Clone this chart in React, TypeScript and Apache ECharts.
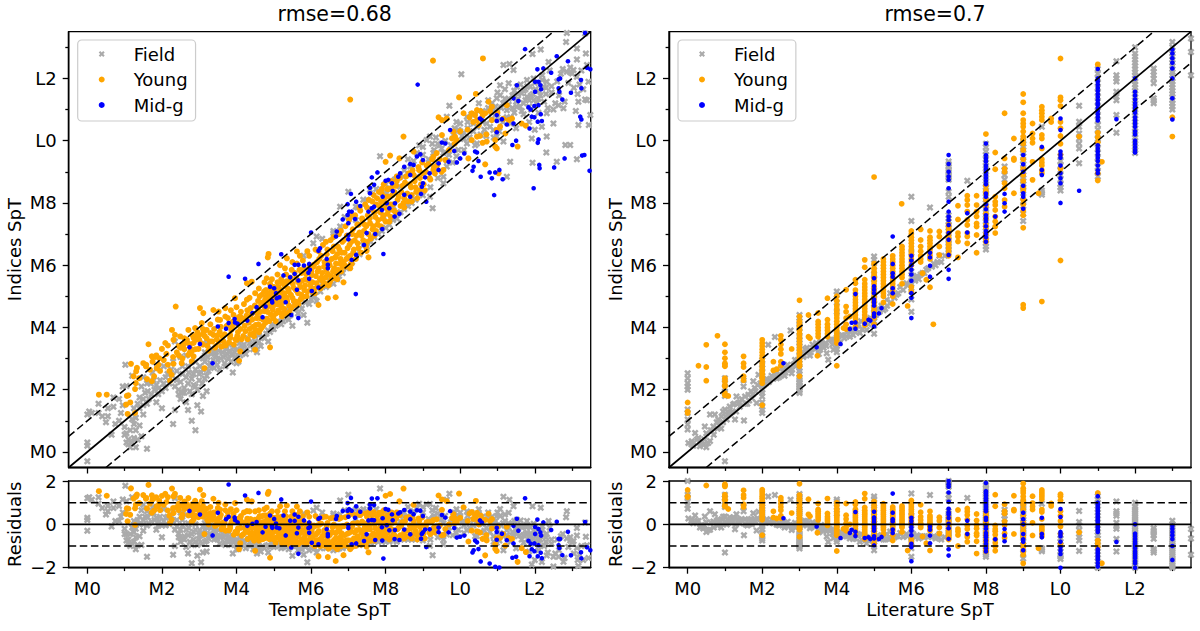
import React, { useEffect, useRef } from "react";
import * as echarts from "echarts";

const spectralLabels: Record<number, string> = { 0: "M0", 2: "M2", 4: "M4", 6: "M6", 8: "M8", 10: "L0", 12: "L2" };
const majorTicks = [0, 2, 4, 6, 8, 10, 12];
const minorTicks = [1, 3, 5, 7, 9, 11, 13];
const residualTicks = [-2, 0, 2];
const titles = ["rmse=0.68", "rmse=0.7"];
const xNames = ["Template SpT", "Literature SpT"];
const legendNames = ["Field", "Young", "Mid-g"];

type P = number[];
const fieldLeft: P = [0,-.3,0,.2,0,.3,0,1.2,.05,1.3,.12,1.25,.3,1.55,.3,1.25,.4,1.15,.7,1.75,.7,1.45,.55,1.4,.55,1.15,.5,.95,.65,.55,.75,.9,.85,1,.9,1.25,.95,1.5,.85,1.7,.95,2.1,1.05,2.12,1.02,2.8,1.2,2.45,
1,.8,1.05,.6,1.1,.4,1.1,.25,1.05,.3,1.15,.15,1.2,.3,1.3,.15,1.25,.45,1.3,.7,1.25,.9,1.2,1.05,1.3,1.1,1.15,.7,1,.55,1.35,.4,1.6,.1,1.4,.85,1.5,1.2,1.45,.5,
1.25,1.4,1.4,1.75,1.35,1.55,1.5,1.5,1.55,1.9,1.65,1.7,1.7,2.2,1.8,2,1.9,1.85,1.95,2.3,1.6,2.2,1.45,2.1,1.5,2.4,2,1.4,1.85,1.6,2.1,2.05,2.15,2.5,2.25,2.65,2.05,2.75,1.75,2.55,1.9,2.7,2.3,.9,2.35,1.35,2.5,1.7,2.55,1.9,2.65,1.6,2.7,1.35,2.8,1,2.9,.7,2.95,1.5,3.05,1.3,3.1,1.8,3.2,1.95,2.45,2,2.6,2.05,2.7,2.2,2.8,1.85,2.9,2.1,3,2.3,2.85,2.5,3.05,2.55,2.4,2.3,2.55,2.5,2.7,2.75,2.3,2.9,2.5,3.05,2.65,3.1,2.35,3.55,2.9,2.9,3.1,3,3.15,2.35,3.25,2.6,3.3,2.85,3.4,2.7,3.45,3.1,3.5,2.95,3.55,2.65,3.65,3.05,3.7,2.75,3.75,3.15,3.85,2.9,3.9,2.55,3.95,3.2,4,2.85,4.05,2.9,3.35,3.3,3.6,3.4,3.8,3.45,3.2,3.5,3.15,3.2,4.1,3.1,4.15,3.35,4.25,3.15,4.35,3.5,4.45,3.3,4.55,3.2,4.5,3.55,4.65,3.4,4.75,3.65,4.8,3.8,4.85,3.55,5,3.95,5.1,4.2,4.95,4.1,5.2,4.1,5.3,4.3,5.4,4.25,5.5,4.05,5.6,4.6,5.65,4.45,5.7,4.7,5.8,4.4,5.9,4.15,5.85,4.8,6,4.9,6.05,5,
4.6,3.75,4.9,3.85,5.35,4.55,5.55,4.75,6.1,5,6.3,5.4,6.5,5.5,6.7,5.55,6.85,5.75,6.95,5.9,7.1,6.1,7.3,6.35,7.5,6.6,7.7,6.9,7.9,7.1,8.1,7.3,8.3,7.5,8.5,7.8,8.7,8,8.9,8.3,5.8,6.3,6.3,6.85,6.6,7.1,6.9,7.55,6.06,6.7,6.15,6.92,6.6,7.03,6.78,7.24,7.05,7.56,7.2,7.45,7.2,7.88,6.78,7.88,7.4,8.1,7.58,8.42,8.03,8.31,8.21,7.88,7.94,7.56,8.34,7.67,8.39,8.52,8.48,8.84,8.84,8.84,8.66,9.17,8.84,9.6,9,9.8,9.19,10.13,9.28,9.6,9.1,10.02,9.55,8.63,9.55,8.84,9.64,9.17,9.55,9.6,9.82,10.18,9.64,10.77,10.18,9.91,9.26,7.83,9.19,8.2,7.85,9.5,7,8.36,9.71,11.12,10.03,12.13,
12.86,13.46,13.35,13.44,12.84,13.17,13.13,12.96,12.16,12.93,11.94,12.78,11.16,12.43,11.32,12.46,11.43,12.27,12.37,12.53,13.13,12.61,13.37,12.8,13.4,12.43,13.04,12.27,13,12.16,12.86,12.21,13.13,12.05,13.44,11.89,12.32,11.89,11.97,12,11.79,11.95,11.3,11.84,11.07,11.78,11.07,11.46,10.98,11.36,10.85,11.2,10.5,11.2,11.52,11.73,11.65,11.52,11.88,11.73,10.18,10.77,10.36,10.55,10.71,10.55,10.89,10.34,11.07,10.66,11.25,10.98,11.52,11.09,11.79,11.41,11.97,11.3,12.24,11.73,12.32,10.88,12.5,10.55,12.19,10.45,11.92,10.07,12.32,10.13,11.16,9.97,10.98,10.13,10.45,9.91,11.34,9.32,11.94,9.29,12.31,9.62,12.59,9.32,12.82,9.86,12.95,9.86,13.13,9.4,13.17,10.5,12.77,11.04,12.64,11.14,13.49,10.82,13.17,11.25,13.35,11.32,11.25,8.84,
10.6,10.95,10.75,11.3,10.9,11,11,11.55,11.15,11.2,11.2,11.65,11.3,11.35,11.4,11.05,11.45,11.6,11.55,11.35,11.62,11.8,11.7,11.2,11.75,11.65,11.85,11.1,11.9,11.45,12.02,11.65,12.1,11.35,12.2,11.95,12.3,11.5,12.45,11.75,12.55,11.2,12.7,12.15,12.95,12.35,13.2,11.8,10.65,10.35,10.2,10.4,10.85,10.7,11.35,10.75,11.5,10.4,11.7,10.85,11.85,10.6,12,10.35,12.1,10.9,9.9,10.6,9.95,10.35,10.05,10.15,9.3,9.1,9.45,9.85,9.7,9.55,9.8,9.3,9.95,9.7,10.1,10.05];
const fieldLeftDense: P = [1.4,1.4,1.5,1.7,1.6,1.55,1.62,1.95,1.72,1.85,1.78,2.3,1.85,2.15,1.92,2.05,2,1.95,2.05,2.2,2.1,2.4,2.2,2.2,2.28,2.45,2.35,2.1,2.4,2.6,2.45,1.85,2.5,2.25,2.55,2.75,2.6,1.9,2.65,2.4,2.72,2.55,2.75,1.95,2.8,2.35,2.85,2.15,2.9,2.65,2.95,2,3,2.5,3.02,2.75,3.08,2.2,3.1,2.65,3.15,2.9,3.2,2.45,3.22,3.05,3.28,2.75,3.32,3.15,3.38,2.95,3.42,3.2,3.48,2.8,3.52,3.25,3.58,3,3.62,3.2,3.68,2.85,3.72,3.3,3.78,3,3.82,3.25,3.88,3.1,3.92,3.35,3.98,3.05,4.02,3.3,4.08,3.5,4.12,3.2,4.2,3.45,4.28,3.3,4.32,3.65,4.4,3.45,4.48,3.75,4.52,3.4,4.6,3.55,4.7,3.7,4.85,3.9,4.95,3.95,5.05,4.05,5.15,4.15,5.25,4.2,5.45,4.4,5.75,4.6,5.95,4.75,6.15,4.85,6.25,5.15,6.4,5.3,6.6,5.4,6.75,5.65,
9.15,9.4,9.3,9.7,9.4,9.9,9.4,9.3,9.5,9.75,9.6,10,9.65,9.35,9.75,9.85,9.85,10.4,9.9,9.5,10,10.3,10,10.55,10.1,10.25,10.1,9.7,10.2,10.6,10.25,10.1,10.3,10.85,10.35,10.3,10.4,9.85,10.45,10.45,10.5,10.95,10.55,10.2,10.6,10.6,10.7,10.15,10.75,11.05,10.8,10.45,10.85,10.9,10.9,10.1,10.95,11.1,11,10.75,11.05,10.3,11.1,11.05,11.15,10.6,11.2,11.35,11.25,10.75,11.3,11.15,11.35,10.55,11.4,11.45,11.45,10.9,11.5,11.25,11.55,11.5,11.6,11.1,11.65,10.95,11.7,11.6,11.75,11.3,11.8,11.75,11.85,11.3,11.9,11,11.95,11.5,12,11.85,12.05,11.2,12.1,11.6,12.15,11.45,12.2,12.1,12.25,11.25,12.3,11.7,12.35,11.05,12.4,12.25,12.45,11.55,12.5,11,12.6,11.9,12.65,11.45,12.75,12.3,12.8,11.25,12.9,11.85,12.95,12.2,13.05,11.7,13.1,10.95,13.15,11.5,13.25,12.25,13.3,11.65,13.4,11.3,13.45,10.5,
7.4,6.65,7.6,6.75,7.8,7,8,7.2,8.2,7.45,8.4,7.7,8.6,7.9,8.8,8.1,9,8.25,9.2,8.5,9.4,8.8,7.25,7.85,7.5,8.1,7.75,8.45,8,8.6,8.25,8.75,8.5,9.05,8.75,9.35,9,9.55,9.25,9.9,9.35,10.1,8.6,9.4,8.9,9.85];
const youngLeft: P = [.31,1.84,.52,1.84,1.06,1.8,1.1,1.82,1.04,1.52,1.15,1.59,1.08,1.22,1.28,1.25,1.17,2.83,1.33,2.7,1.31,2.59,1.24,2.43,1.39,2.37,1.3,2.21,1.28,2.02,1.64,3.46,1.5,2.85,1.58,2.8,1.57,2.75,1.68,2.64,1.91,2.8,1.86,2.69,1.79,2.43,1.6,2.34,1.73,2.27,1.73,3.07,1.82,3.05,1.93,3.01,2,3.31,2.09,3.5,2.16,3.42,2.16,2.8,2.31,2.83,2.26,2.48,2.22,2.29,2.53,2.85,2.37,4.67,2.27,3.92,2.35,3.76,2.31,3.6,2.49,3.71,2.71,3.92,2.89,3.98,3.02,4.62,3.11,4.46,3.07,4.14,3.38,4.56,3.52,4.51,3.7,4.62,3.56,4.24,3.2,3.92,3.11,3.82,2.94,3.71,2.85,3.66,2.67,3.6,2.58,3.44,2.8,3.23,2.71,3.12,2.85,3.07,2.98,3.31,3.14,2.69,2.8,2.91,3.38,3.76,3.29,3.55,3.65,3.55,3.83,3.66,4.01,3.6,4.1,3.23,4.07,2.93,3.92,4.4,4.1,4.35,4.28,4.89,4.41,5.47,4.28,5.42,3.96,4.94,4.5,3.28,4.9,3.36,4.46,3.82,4.63,3.92,4.99,4.35,5.26,4.46,4.81,5.58,4.86,6.36,4.84,6.25,5.17,6,5.35,6.22,5.62,6.44,
2.4,3.2,2.6,3.3,2.75,3.45,2.9,3.6,2.55,3,2.95,3.85,2.65,3.55,2.82,3.75,
3.05,3.5,3.15,3.72,3.22,3.41,3.3,3.82,3.42,3.35,3.47,3.62,3.55,3.86,3.6,3.38,3.68,3.78,3.74,4.05,3.8,3.52,3.86,3.92,3.9,4.18,3.97,3.62,4.04,3.85,4.08,4.22,4.12,4.5,4.18,3.72,4.22,4.05,4.27,4.38,4.3,3.62,4.35,3.95,4.38,4.62,4.42,4.25,4.47,3.72,4.52,4.08,4.55,4.45,4.58,4.85,4.6,3.85,4.63,4.3,4.66,4.72,4.68,5.05,4.72,4.05,4.75,4.52,4.77,4.9,4.79,5.2,4.82,4.28,4.85,4.68,4.87,5.08,4.9,5.4,4.92,4.42,4.95,4.98,4.97,4.58,5,5.3,5.02,4.72,5.05,4.2,5.08,4.9,5.1,5.45,5.12,4.55,5.15,5.12,5.18,4.78,5.2,5.55,5.22,4.35,5.25,5,5.28,4.6,5.3,5.32,5.33,5.7,5.36,4.85,5.4,5.15,5.42,4.5,5.45,5.5,5.48,5.85,5.5,4.95,5.53,5.28,5.57,4.72,5.6,5.6,5.62,6.05,5.65,5.1,5.68,5.42,5.72,4.9,5.75,5.75,5.78,6.15,5.82,5.2,5.85,5.55,5.88,5,5.92,5.85,5.95,6.3,5.98,5.35,6.02,5.68,6.05,5.12,6.08,6.02,6.12,6.5,6.15,5.42,6.18,5.8,6.22,6.2,6.25,5.25,6.28,5.6,6.32,6.65,6.35,5.95,6.38,5.4,6.42,6.35,6.45,5.72,6.48,6.1,6.52,6.8,6.55,5.55,6.58,6.45,6.62,5.9,6.65,6.25,6.68,5.7,6.72,6.6,6.75,7,6.78,6.05,6.82,6.4,6.85,5.95,6.88,6.8,6.92,7.25,6.95,6.2,6.98,6.55,7.02,7.45,7.05,6.3,7.08,6.75,7.12,7.15,7.15,6.5,7.18,7.6,7.22,6.95,7.25,6.7,7.28,7.3,7.32,7.75,7.35,6.95,7.38,7.45,7.42,7.1,7.45,7.95,7.48,7.25,7.52,7.6,7.55,8.1,7.58,7.35,7.62,7.8,7.65,7.15,7.68,8.25,7.72,7.55,7.75,7.95,7.78,7.3,7.82,8.35,7.85,7.7,7.88,8.05,7.92,7.5,7.95,8.6,7.98,7.85,8.02,8.2,8.05,7.65,8.08,8.45,8.12,7.95,8.15,8.7,8.18,8.25,8.22,7.75,8.28,8.55,8.32,8.1,8.38,8.8,8.42,8.35,8.48,8,8.52,8.65,8.58,8.3,8.62,8.95,8.68,8.5,8.72,9.05,8.78,8.7,8.82,8.35,8.88,9.15,8.92,8.8,8.98,9.3,9.02,8.6,9.08,9,9.15,9.25,9.2,8.75,9.25,9.4,9.32,8.95,
6.2,4.72,6.45,4.94,6.66,4.97,6.87,5.45,7.54,6.25,7.49,6.46,7.09,6.04,7.05,11.32,9.27,12.57,10.61,12.64,8.48,10.13,9.97,11.39,10.42,11.5,9.42,10.75,9.51,10.66,9.64,10.71,9.51,10.18,9.82,10.29,9.86,10.13,9.91,10.02,9.78,10.07,8.75,9.65,8.12,9.52,8.37,9.43,8,9.32,9.28,9.48,9.37,9.6,9.55,9.06,9.28,9.06,9.6,9.38,10.09,10.88,10.31,10.88,10.45,10.98,10.4,10.82,10.76,11.25,10.85,11.09,10.67,10.88,10.45,10.66,10.85,10.66,11.07,10.45,10.98,10.34,10.45,10.13,10.53,10.15,10.31,10.02,10.6,9.93,10.71,9.97,10.94,10.02,10.94,9.81,10.98,9.75,11.21,10.23,11.3,10.66,11.39,10.71,11.65,10.55,11.76,10.48,11.25,11.14,11.54,9.81,10.67,9.24,10.22,9.43,11.03,8.95];
const youngLeftDense: P = [3.52,3.55,3.58,4.02,3.63,3.7,3.71,3.42,3.77,4.3,3.83,3.75,3.88,4.02,3.93,3.45,3.99,4.12,4.02,3.72,4.06,4.33,4.11,3.95,4.14,3.62,4.2,4.28,4.24,3.88,4.29,4.55,4.33,4.15,4.37,3.78,4.4,4.42,4.44,4.02,4.49,4.7,4.51,3.92,4.54,4.3,4.57,4.62,4.59,4.1,4.62,5,4.64,4.5,4.67,3.98,4.7,4.8,4.71,4.25,4.74,5.15,4.76,4.65,4.78,4.15,4.81,5,4.83,4.5,4.86,4.85,4.88,4.2,4.91,5.25,4.93,4.7,4.96,5.12,4.98,4.3,5.01,4.85,5.03,5.2,5.06,4.45,5.07,5.05,5.11,4.75,5.13,5.3,5.16,4.48,5.17,4.95,5.19,5.2,5.21,4.65,5.24,5.42,5.26,4.82,5.29,5.1,5.31,4.45,5.34,5.48,5.35,4.95,5.38,5.25,5.41,4.7,5.44,5.6,5.46,5.05,5.47,4.62,5.51,5.4,5.54,4.85,5.56,5.75,5.59,5.2,5.61,4.82,5.64,5.5,5.66,4.75,5.69,5.85,5.71,5.3,5.74,5.05,5.76,5.5,5.79,4.98,5.81,5.9,5.84,5.35,5.87,5.72,5.9,5.15,5.93,5.5,5.96,6,5.99,5.2,6.01,5.8,6.04,5.45,6.07,5.95,6.1,5.25,6.13,5.65,6.16,6.1,6.19,5.3,6.21,5.9,6.24,5.55,6.27,6.3,6.3,5.75,6.33,5.35,6.36,6.1,6.39,5.6,6.41,5.85,6.44,6.5,6.47,5.35,6.5,6,6.53,5.65,6.56,6.2,6.59,5.8,6.61,6.6,6.64,5.6,6.67,6.05,6.7,6.35,6.73,5.85,6.76,6.5,6.79,6.2,6.81,5.8,6.84,6.75,6.87,6.1,6.9,6.4,6.93,5.95,6.96,6.95,6.99,6.25,7.03,6.65,7.07,6.05,7.1,7,7.13,6.4,7.17,6.8,7.2,6.2,7.24,7.3,7.27,6.55,7.3,7.05,7.34,6.4,7.37,7.5,7.4,6.8,7.44,7.3,7.47,6.6,7.5,7.85,7.54,7,7.57,7.5,7.6,6.85,7.64,8.05,7.67,7.25,7.7,7.7,7.74,7.1,7.77,8.15,7.8,7.45,7.84,7.9,7.87,7.25,7.9,8.3,7.94,7.6,7.97,8.05,8,7.4,8.04,8.45,8.07,7.75,8.1,8.2,8.14,7.55,8.17,8.5,8.2,7.95,8.24,8.35,8.27,7.7,8.3,8.7,8.35,8.2,8.4,7.9,8.45,8.55,8.5,8.15,8.55,8.85,8.6,8.05,8.65,8.6,8.7,8.25,8.75,8.9,8.8,8.5,8.85,8.15,8.9,9.05,8.95,8.6,9,8.95,9.05,8.4,9.1,9.2,9.18,8.8,9.3,9.15,9.38,9.2,9.45,9.4,9.5,9,
1.75,2.9,1.85,3.1,1.95,2.6,2.05,2.95,2.12,3.15,2.2,2.6,2.45,3.4,2.5,3.35,3,3.75,3.1,3.45,3.2,3.65,3.25,3.25,3.35,3.55,3.4,3.95,3.45,3.4,3.5,3.75,2.78,3.3,2.85,3.5,2.9,3.3,
7.1,7.6,7.3,7.85,7.5,6.75,7.7,6.95,7.9,8.45,8.1,7.4,8.3,8.85,8.5,7.85,8.7,8.05,8.9,8.4,7.05,5.9,6.9,6,6.7,5.55,6.5,5.45,6.3,5.5,6.1,5.1,6.4,6.75,6.2,6.45,6.6,6.9,6.8,7.1,3,3.6,3.1,3.95,3.3,4.1,3.5,4.25,3.7,4.35,3.85,4.55,4,4.65,4.2,4.75,4.35,4.95,4.5,5.1,4.6,5.25,4.75,5.45,4.95,5.55,5.1,5.7,5.3,5.9,5.5,6.1,5.7,6.3,5.9,6.45,2.3,3.05,2.45,3.1,2.6,3.65,2.7,3.5,2.75,3.2,9.7,9.7,9.85,9.9,10,10.3,10.2,10.35,10.35,10.6,10.5,10.5,10.6,10.8,10.7,10.2,10.8,10.95,11,10.9,11.15,10.7,10.55,10.95,10.25,10.75];
const midLeft: P = [8.86,11.8,11.74,12.94,13.35,13.46,12.59,12.71,12.07,12.29,12.23,12.32,12.44,12.18,12.89,12.55,11.52,11.78,11.43,11.36,11.56,11.27,12.01,11.89,12.1,11.89,12.15,11.78,12.01,11.57,12.17,11.65,12.64,11.97,12.68,12,12.64,11.68,12.66,11.57,12.74,11.32,12.97,11.54,13.24,11.95,13.25,11.68,13.4,12.34,13.49,12.29,13.22,10.77,13.25,10.68,12.1,11.14,11.99,11.11,11.83,11.07,11.89,11,11.92,10.77,11.99,10.75,12.08,10.61,12.19,10.63,12.16,10.85,10.98,10.82,11.12,10.69,10.98,10.63,11.25,10.52,11.43,10.55,11.86,10.39,10.98,10.27,12.1,10.04,12.08,9.93,11.5,10,11.4,9.86,10.53,10.71,10.58,10.66,9.73,10.34,9.51,9.94,9.6,9.91,10.11,9.59,9.84,9.67,10.4,9.65,10.45,9.62,10,9.43,9.91,9.3,9.69,9.32,10.49,9.35,10.36,9.16,10.33,9.03,10.55,8.84,10.79,8.98,10.94,8.98,11.05,9.06,10.85,8.79,11.14,8.76,10.91,8.25,11.97,8.47,12.12,9.22,12.13,9.11,12.8,9.43,12.52,9.14,13.27,9.52,13.33,9.54,13.47,9.03,
8.84,9.49,8.93,9.56,8.75,9.22,8.66,9.25,8.5,9.16,8.39,8.95,8.34,8.84,8.07,8.74,8,8.71,8.17,8.63,8.66,8.9,9.06,8.82,9,8.63,8.97,8.52,9.18,8.95,9.42,9.27,9.42,9.06,9,9.38,8.95,8.29,9.09,8.04,8.66,8.2,8.5,8.26,8.19,8.38,7.92,8.2,7.78,8.98,7.63,8.82,7.69,8.58,7.58,8.49,7.58,8.31,7.07,8.29,6.98,7.96,7.21,8.04,7.32,7.9,7.02,7.72,7.09,7.72,6.98,7.61,6.85,7.47,7,7.35,7.18,7.48,7.54,7.72,7.63,7.83,7.69,7.88,7.9,7.77,8.03,7.99,8.25,7.99,8.1,7.83,8.24,7.56,8.37,7.65,7.91,7.16,7.49,7.03,7.72,7,6.69,7.08,6.67,6.92,6,7.05,7,6.97,7,6.83,7.42,6.65,6.24,6.54,
5.2,6.35,4.59,6.04,3.79,5.63,4.23,5.56,2.74,3.36,3.02,3.47,3.36,2.85,3.5,4.03,3.72,3.96,3.79,4.14,3.95,4.27,3.96,4.16,4.03,4.12,4.29,4.22,4.43,4.46,4.54,4.65,4.7,4.33,4.78,4.67,4.95,4.86,4.96,4.8,5.08,4.94,5.15,4.97,5.06,5.1,5.01,5.26,4.9,5.31,5.26,5.67,5.44,5.61,5.56,6.01,5.66,6.01,5.56,5.72,5.62,5.21,5.32,4.81,5.66,5.51,5.47,4.4,5.66,4.3,7.94,6.36,7.2,5.07,7.21,6.33,7.09,6.17,6.2,5.28,6.02,5.17,5.95,5.56,6.42,6.2,6.45,6.01,6.45,5.9,5.97,5.85,5.93,5.76,5.95,6.04,5.81,5.99,6.2,6.46];

// Right panel: [spectral type, [indices values...]] columns, then loose points
const fieldColumns: [number, number[]][] = [
[0,[2.53,2.37,2.21,2.1,2,1.36,1.25,1.04,.88,.72]],[1,[2.37,2.2,2.05,1.9,1.8,-.3]],[1.5,[2.3,2.1]],[2,[1.25,1.46,1.78,2,2.2,2.45,2.7,2.95,1.35,1.6,1.9,2.1,2.3,2.55,2.8]],[3,[1.89,2,2.1,2.21,2.32,2.6,2.85,3.1,3.4,3.7,4,4.2,4.4,1.95,2.05,2.15,2.25,2.4,2.5,2.7,2.95,3.2,3.5,3.6,3.85,4.1,4.3]],[4,[5.15,5.05,4.8,4.5,3.6,3.4,3.2,3.8,3.55,3.3]],[5,[6.28,6.17,5.7,4.9,4.3,4.05,3.8,5.95,5.55,5.2,5.05,4.75,4.6,4.45,4.2]],[6,[6.4,4.5,5.15,4.9,8.2,7.42,5.8,5.6,5.4]],[6.5,[7.85]],[7,[9.33,9.16,9,8.85,8.74,8.36,8.2,7.6,7.4,7.2,6.8,6.6,6.4,9.25,9.08,8.92,8.8,7.5,7.3,7.1,6.9,6.7,6.5]],[7.5,[8.71]],
[8,[9.8,9.65,9.4,9.1,8.9,8.5,8.1,7.7,7.3,7,6.6,6.5,9.9,9.55,9.3,9.2,9,8.8,8.7,8.6,8.4,8.3,8.2,8,7.9,7.8,7.6,7.5,7.4,7.2,7.1,6.9,6.8,6.7]],[8.5,[9.17,9.05,8.9,8.75]],[9,[10,9.8,9.6,9.35,9.1,8.8,8.5,8.05,7.42,7.65,9.9,9.7,9.5,9.25,9,8.9,8.7,8.6,8.4,8.2,7.9]],[9.5,[10.45,8.4,8.26,8.33]],[10,[9.5,9.2,8.9,8.6,8.5,8.4,9.35,9.05,8.75]],[10.5,[11.12,10.61,10.45,10.23,10.07,9.91,9.75,9.27]],
[11,[12,11.7,11.4,11.1,10.8,10.5,10.2,9.9,9.6,9.3,9,8.85,12.3,12.15,11.85,11.55,11.25,10.95,10.65,10.35,10.05,9.75,9.45,9.15]],[11.5,[12.55,12.1,12,11.9,11.57,11.41,11.3,10.82,10.25]],[12,[13,12.4,12.3,12.2,12.1,11.9,11.7,11.4,11.1,10.9,10.6,10.4,10.1,9.8,9.6,12.5,12.6,12.7,12.8,12,11.8,11.6,11.5,11.3,11.2,11,10.8,10.7,10.5,10.3,10.2,10,9.9,9.7]],[12.5,[12.32,12.21,12,11.84,11.36,11.2,12.1,11.28]],[13,[13.17,13,12.7,12.1,11.9,11.7,11.5,11.3,11.1,11,12.9,12.8,12.6,12.5,12.4,12.3,12.2,12,11.8,11.6,11.4,11.2]],[13.5,[13.28,12.85,12.1]]];
const fieldRightLoose: P = [.02,.29,.11,.34,.2,.61,.29,.45,.33,.18,.42,.23,.55,.29,.46,.82,.6,1.2,.73,1.2,.69,.82,.82,1.04,.91,1.14,1,1.36,1.05,1.04,1.13,1.46,1.22,1.52,1.31,1.78,1.36,1.57,1.27,1.04,1.51,1.01,1.54,1.78,1.63,1.84,1.72,1.73,1.76,2.27,1.85,1.57,1.9,2.48,.15,.2,.38,.35,.5,.6,.62,.7,.78,.95,.9,.75,.95,1.3,1.1,1.2,1.2,1.3,1.4,1.45,1.6,1.55,1.8,2.05,
2.16,3.44,2.34,3.69,2.76,3.9,2.39,2.37,2.48,2.48,2.65,2.64,2.79,2.53,2.84,2.8,3.19,3.18,3.3,3.2,3.4,3.35,3.55,3.28,3.73,3.17,3.77,2.96,3.91,3.28,4.08,3.5,4.26,3.71,4.44,3.76,4.62,3.82,4.8,3.92,5.34,4.89,5.43,5.1,5.87,5.42,2.2,2.3,2.3,2.35,2.1,2.2,2.55,2.6,2.6,2.45,2.7,2.65,2.9,2.75,2.95,2.95,3.1,3.05,3.2,3.35,3.45,3.5,3.6,3.45,3.7,3.5,3.85,3.6,4.15,3.75,4.3,3.95,4.4,3.9,4.55,4.05,4.65,4.2,4.75,4.2,4.9,4.3,5.1,4.6,5.2,4.7,5.3,4.6,5.6,5.05,5.7,5.3,6.1,5.5,6.2,5.55,6.3,5.75,6.4,5.85,6.55,5.95,6.65,6,6.8,6.1,6.9,6.3,
.1,.25,.25,.4,.35,.25,.45,.4,.5,.15,.6,.35,.7,.55,.8,.75,.85,.95,.95,.95,1.02,1.15,1.08,1.3,1.15,1.25,1.25,1.55,1.3,1.3,1.4,1.6,1.45,1.7,1.55,1.55,1.65,1.65,1.7,1.95,1.75,1.85,1.82,1.95,1.88,2.15,1.95,2.2,2.05,2.15,2.12,2.35,2.18,2.25,2.25,2.45,2.32,2.4,2.38,2.55,2.45,2.4,2.52,2.7,2.58,2.6,2.62,2.55,2.68,2.8,2.74,2.7,2.8,2.65,2.88,2.95,2.92,2.85,3.05,3.15,3.12,3.1,3.15,3.3,3.22,3.25,3.28,3.1,3.35,3.45,3.42,3.3,3.5,3.4,3.52,3.15,3.58,3.55,3.65,3.35,3.72,3.4,3.8,3.6,3.88,3.45,3.95,3.6,4.05,3.6,4.12,3.75,4.2,3.65,4.28,3.85,4.35,3.7,4.42,3.95,4.5,3.85,4.58,4.1,4.68,3.95,4.78,4.15,4.85,4.1,4.95,4.25,5.05,4.4,5.15,4.5,5.25,4.55,5.35,4.7,5.45,4.8,5.55,4.95,5.65,5.1,5.78,5.2,5.9,5.35,6.05,5.6,6.15,5.65,6.25,5.7,6.35,5.75,6.45,5.9,6.6,6.05,6.7,6.1,6.75,6.3];
const youngColumns: [number, number[]][] = [
[0,[1.59,1.3,1.25]],[1,[3.46,3.2,3.01,2.85,2.8,2.75,2.37,2.27,2.16,2.1,1.89,1.82]],[1.5,[3.07,2.85,2.73,2.43,2.3]],[2,[3.6,3.5,3.4,3.3,3.2,3.1,3,2.9,2.8,2.7,2.6,2.5,2.4,2.3,2.21,1.5]],[2.5,[3.73,3.6,3.45,3.3,3.15,2.9,2.78]],
[3,[4.87,4.35,4.2,4.1,4,3.9,3.8,3.7,3.6,3.5,3.4,3.3,3.2,3.1,3,2.9,2.82,2.75,2.43]],[3.5,[4.46,4.19,4.1,4,3.9,3.8,3.7]],[3.75,[4.94,4.25,4.1,4,3.9,3.8,3.7]],[4,[5,4.85,4.7,4.6,4.5,4.4,4.3,4.2,4.1,4,3.9,3.8,3.7,3.6,3.5,2.77]],[4.25,[5.21,4.67,4.5,4.3,4.1,3.95]],[4.5,[5.53,5.42,5.2,5.1,5,4.9,4.8,4.7,4.6,4.5,4.4,4.3,4.2,4.03]],[4.75,[6.17,5.93,5.53,5.4,5.3,5.2,5.1,5,4.9,4.8,4.7,4.6,4.5,4.4,4.3,4.2,4.08]],
[5,[8.83,6.05,5.9,5.8,5.7,5.6,5.5,5.4,5.3,5.2,5.1,5,4.9,4.8,4.7,4.6,4.5,4.4,4.3,4.1]],[5.25,[6.2,6.1,6,5.9,5.8,5.7,5.6,5.5,5.4,5.3,5.2,5.1,5,4.8]],[5.5,[6.3,6.2,6.1,6,5.9,5.8,5.7,5.6,5.5,5.4,5.3,5.2,5,4.75]],[5.75,[6.6,6.5,6.4,6.3,6.2,6.1,6,5.9,5.8,5.7,5.6,5.4]],[6,[7.1,6.9,6.7,6.6,6.5,6.4,5.3,5.15,7,6.8,6.3,6.2,6.1,6]],
[6.25,[7.15,6.81,6.6,6.45,6.3,6.2,6.1]],[6.5,[7.1,6.9,6.7,6.5,6.3,5.29,6.8,6.6,6.4,6.2]],[6.75,[7.08,6.92,6.6,6.33]],[7,[7.3,7.1,6.9,6.7,6.5,6.3,7.2,7,6.8,6.6,6.4]],[7.25,[7.91,7.47,7.03,6.92,6.76,6.25]],[7.5,[8.23,8.09,7.93,7.72,7.45,7.29,7.03,6.92,6.7]],[7.75,[8.23,7.93,7.72,7.56,7.34,7.24,6.97,6.4]],[8,[10.21,8.55,8.4,7.65,7.2,6.85,8.3,8.1,7.9,7.5,7.3,7,6.75]],[8.25,[9.62,9.08,8.2,8.04,7.93,7.77,7.56,7.4,7.24,7.03]],[8.5,[9.43,9.1,9,8.63,8.47,8.09,7.88,10.88]],[8.75,[10.07,9.43,9.38,8.31]],
[9,[11.5,11.23,10.88,10.66,10.55,10.45,10.29,10.13,10.02,9.9,9.7,9.4,9.1,8.9,8.7,8.5,8.4,8.1,7.95,7.75,7.6,7.2,4.73,4.62]],[9.25,[10.55,10.23,10.07,9.93,9.32,8.74]],[9.5,[11.09,10.98,10.88,10.77,10.66,10.18,10.07,9.75,9.4,9.3,9.2,9.05,8.95,4.83]],[9.75,[10.71,10.6]],[10,[12.64,11.39,11.3,11.11,10.6,10.4,10.15,9.9,9.55,9.1,6.15]],[10.5,[10.13]],[11,[12.45,10.25,10.1,9.95,8.72,8.95]],[11.11,[9.32]],[13,[10.75,10.13]]];
const youngRightLoose: P = [.29,2.77,.5,3.44,.5,2.73,.5,2.29,.8,3.73,1.09,1.8,2.3,2.9,2.3,2.62,2.39,2.66,2.79,3.31,3.24,4.4,3.24,3.7,3.28,3.65,3.48,3.09,4.18,3.98,4.35,4.35,5.9,4.69,6.59,4.1,6.3,5.74,6.4,5.53,5.74,7.97,9.41,8.31];
const midColumns: [number, number[]][] = [
[4.5,[5.07,4.16,3.96]],[5,[5.58,5.32,5.21,5.1,4.9,4.8,4.7,4.45,4.35,4.03]],[5.5,[6.92,6.04,5.74,5.63,5.26,5.1]],[6,[6.3,6.15,6,5.85,5.7,5.5,5.1,4.95,4.3]],[6.5,[6.4,6.25,5.98,5.63]],[7,[9.54,9.25,9,8.85,8.74,8.47,8.04,7.72,7.56,7.45,7.29,7.03,6.82,6.33,5.85,5.56]],[7.5,[7.67,7.05]],
[8,[9.91,9.53,9.43,9.33,9.2,9.1,9,8.9,8.8,8.7,8.6,8.3,8.2,7.95,7.8,7.6,7.5,7.4,7.25,7.1,7,6.9,6.75]],[8.25,[7.56]],[8.5,[8.29,7.99,7.72]],[9,[9.54,9.24,9,8.55,8.31,8.2,7.81]],[9.5,[9.8,9.06,8.9]],[10,[10.71,10.34,9.65,9.55,9.45,9.2,8.95,8.79,8.63,8]],[10.5,[8.39]],
[11,[12.3,12,11.9,11.8,11.7,11.6,11.5,11.4,11.3,11.2,11.05,10.75,10.65,9.65,9.55,9.45,9.35,9.2,9.05,8.95,10.95,10.85,9.75,9.85,11.15]],[11.5,[10.69]],[12,[12,11.57,11.32,11.2,11,10.9,10.75,10.55,10.3,10,9.9,9.8,9.62,11.45,11.1,10.65,10.45,10.2,9.7]],[13,[12.93,12.8,12.65,12.5,12.32,12,11.36,10.68]]];
const midRightLoose: P = [2.57,2.85,3.46,3.36,4.1,3.47,4.4,4.15,4.35,3.95,4.75,4.12,4.85,4.25,4.9,4.22,5.13,4.45,5.2,4.62];

const toPairs = (flat: P) => {
  const out: number[][] = [];
  for (let i = 0; i + 1 < flat.length; i += 2) out.push([flat[i], flat[i + 1]]);
  return out;
};
const fromColumns = (cols: [number, number[]][], loose: P) => {
  const out: number[][] = [];
  cols.forEach(([x, ys]) => ys.forEach((y) => out.push([x, y])));
  return out.concat(toPairs(loose));
};
const residuals = (pts: number[][]) => pts.map(([x, y]) => [x, +(y - x).toFixed(2)]);

const panels = [
  [toPairs(fieldLeft.concat(fieldLeftDense)), toPairs(youngLeft.concat(youngLeftDense)), toPairs(midLeft)],
  [fromColumns(fieldColumns, fieldRightLoose), fromColumns(youngColumns, youngRightLoose), fromColumns(midColumns, midRightLoose)],
];

const X_ICON = "path://M0 1.5L1.5 0L3 1.5L4.5 0L6 1.5L4.5 3L6 4.5L4.5 6L3 4.5L1.5 6L0 4.5L1.5 3Z";
const colors = ["#AAAAAA", "#FFA500", "#0000FF"];
const symbols = [X_ICON, "circle", "circle"];
const sizes = [[7, 6, 4.6], [7, 5.8, 4.6]];

const FONT = "DejaVu Sans";
const lefts = [68.7, 669];
const W = 522;

export default function App() {
  const ref = useRef<HTMLDivElement>(null);
  useEffect(() => {
    const chart = echarts.init(ref.current!, undefined, { renderer: "svg" });
    const grids: any[] = [];
    const xAxes: any[] = [];
    const yAxes: any[] = [];
    const series: any[] = [];
    const legends: any[] = [];
    const titleOpts: any[] = [];
    const tickStyle = { color: "#000", width: 1.3 };
    const nameStyle = { fontFamily: FONT, fontSize: 18, color: "#000" };

    const mkAxis = (position: string, gridIndex: number, min: number, max: number, ticks: number[], len: number, labelled: boolean, fmt?: (v: number) => string, extra: any = {}) => ({
      type: "value", position, gridIndex, min, max, scale: true,
      axisLine: { show: true, onZero: false, lineStyle: { color: "#000", width: 1.3 } }, splitLine: { show: false },
      axisTick: { show: true, inside: false, length: len, customValues: ticks, lineStyle: tickStyle },
      axisLabel: labelled
        ? { show: true, customValues: ticks, formatter: fmt, fontFamily: FONT, fontSize: 18, color: "#000", margin: 12, hideOverlap: false, showMinLabel: true, showMaxLabel: true }
        : { show: false },
      ...extra,
    });

    panels.forEach((sets, p) => {
      const mainGrid = grids.length;
      grids.push({ left: lefts[p], top: 31.7, width: W, height: 435.8, show: true, borderColor: "#000", borderWidth: 1.3, backgroundColor: "transparent" });
      const subGrid = grids.length;
      grids.push({ left: lefts[p], top: 481, width: W, height: 86.7, show: true, borderColor: "#000", borderWidth: 1.3, backgroundColor: "transparent" });
      const fmt = (v: number) => spectralLabels[v] ?? "";
      const base = xAxes.length;
      const yMain = yAxes.length;
      const yRes = yMain + 2;
      xAxes.push(mkAxis("bottom", mainGrid, -0.5, 13.5, majorTicks, 6, false));
      xAxes.push(mkAxis("bottom", mainGrid, -0.5, 13.5, minorTicks, 3.4, false));
      xAxes.push(mkAxis("bottom", subGrid, -0.5, 13.5, majorTicks, 6, true, fmt, { name: xNames[p], nameLocation: "middle", nameGap: 33, nameTextStyle: nameStyle }));
      xAxes.push(mkAxis("bottom", subGrid, -0.5, 13.5, minorTicks, 3.4, false));
      yAxes.push(mkAxis("left", mainGrid, -0.5, 13.5, majorTicks, 6, true, fmt, { name: "Indices SpT", nameLocation: "middle", nameGap: 45, nameTextStyle: nameStyle }));
      yAxes.push(mkAxis("left", mainGrid, -0.5, 13.5, minorTicks, 3.4, false));
      yAxes.push(mkAxis("left", subGrid, -2, 2, residualTicks, 6, true, (v: number) => (v < 0 ? "\u2212" + Math.abs(v) : String(v)), { name: "Residuals", nameLocation: "middle", nameGap: 45, nameTextStyle: nameStyle }));

      sets.forEach((pts, k) => {
        const common = { type: "scatter", name: legendNames[k], symbol: symbols[k], symbolSize: sizes[p][k], itemStyle: { color: colors[k], opacity: 1 }, silent: true, clip: true, z: 2 + k };
        series.push({ ...common, xAxisIndex: base, yAxisIndex: yMain, data: pts });
        series.push({ ...common, xAxisIndex: base + 2, yAxisIndex: yRes, data: residuals(pts) });
      });
      const ln = (xi: number, yi: number, data: number[][], dashed: boolean) => ({
        type: "line", xAxisIndex: xi, yAxisIndex: yi, data, symbol: "none", silent: true, clip: true, z: 10,
        lineStyle: { color: "#000", width: dashed ? 1.5 : 1.7, type: dashed ? [7.5, 3.6] : "solid" },
      });
      series.push(ln(base, yMain, [[-0.5, -0.5], [13.5, 13.5]], false));
      series.push(ln(base, yMain, [[-0.5, 0.5], [12.5, 13.5]], true));
      series.push(ln(base, yMain, [[0.5, -0.5], [13.5, 12.5]], true));
      series.push(ln(base + 2, yRes, [[-0.5, 0], [13.5, 0]], false));
      series.push(ln(base + 2, yRes, [[-0.5, 1], [13.5, 1]], true));
      series.push(ln(base + 2, yRes, [[-0.5, -1], [13.5, -1]], true));

      legends.push({
        left: lefts[p] + 9, top: 40, orient: "vertical", selectedMode: false, z: 20,
        backgroundColor: "rgba(255,255,255,0.8)", borderColor: "#cccccc", borderWidth: 1.2, borderRadius: 4,
        padding: [5, 8, 7, 21], itemWidth: 6, itemHeight: 6, itemGap: 7.5,
        textStyle: { fontFamily: FONT, fontSize: 18, color: "#000", padding: [0, 0, 0, 24], lineHeight: 18 },
        data: legendNames.map((name, k) => ({ name, icon: symbols[k], itemStyle: { color: colors[k] } })),
      });
      titleOpts.push({ text: titles[p], left: lefts[p] + W / 2, top: -2, textAlign: "center", textStyle: { fontFamily: FONT, fontSize: 20.5, fontWeight: "normal", color: "#000" } });
    });

    chart.setOption({ animation: false, backgroundColor: "#fff", title: titleOpts, legend: legends, grid: grids, xAxis: xAxes, yAxis: yAxes, series });
    return () => chart.dispose();
  }, []);
  return <div ref={ref} style={{ position: "absolute", left: 0, top: 0, width: 1200, height: 631 }} />;
}
